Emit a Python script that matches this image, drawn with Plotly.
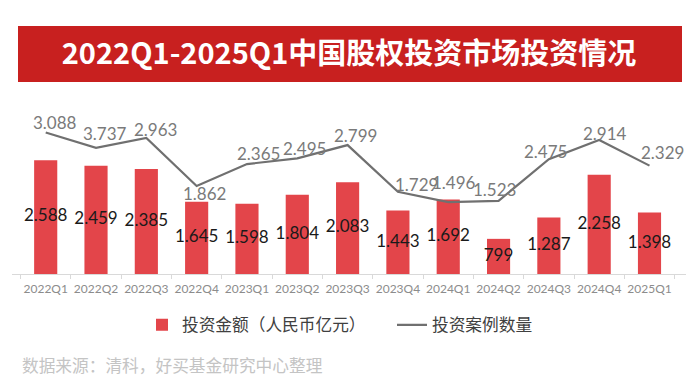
import plotly.graph_objects as go

quarters = ["2022Q1", "2022Q2", "2022Q3", "2022Q4", "2023Q1", "2023Q2", "2023Q3",
            "2023Q4", "2024Q1", "2024Q2", "2024Q3", "2024Q4", "2025Q1"]
amounts = [2588, 2459, 2385, 1645, 1598, 1804, 2083, 1443, 1692, 799, 1287, 2258, 1398]
counts = [3088, 2737, 2963, 1862, 2365, 2495, 2799, 1729, 1496, 1523, 2475, 2914, 2329]
count_labels = ["3.088", "3.737", "2.963", "1.862", "2.365", "2.495", "2.799",
                "1.729", "1.496", "1.523", "2.475", "2.914", "2.329"]

title_text = "2022Q1-2025Q1中国股权投资市场投资情况"
bar_name = "投资金额（人民币亿元）"
line_name = "投资案例数量"
source_text = "数据来源：清科，好买基金研究中心整理"

# label placement tweaks (pixels), style only
label_dx = [9, 9, 9, 8, 12, 7, 8, 19, 6, -4, -3, 6, 13]
label_dy = [10, 14, 8, -7, 11, 10, 10, 7, 20, 11, 8, 7, 13]

def fmt(v):
    return f"{v:,}".replace(",", ".")

BAR = "#E3454A"
LINE = "#707070"
NUM_FONT = "Lato, Roboto, sans-serif"
CJK = "Noto Sans CJK SC, sans-serif"

# the page body has an 8px default margin: work in window pixels, convert
OFF = 8
FIG_W, FIG_H = 700 - 2 * OFF, 385 - 2 * OFF

fig = go.Figure()
fig.add_trace(go.Bar(
    x=quarters, y=amounts, name=bar_name, marker=dict(color=BAR, line=dict(width=0)),
    width=0.46, yaxis="y", hoverinfo="skip",
))
fig.add_trace(go.Scatter(
    x=quarters, y=counts, name=line_name, mode="lines", yaxis="y2",
    line=dict(color=LINE, width=2.2), hoverinfo="skip",
))
fig.add_trace(go.Scatter(
    x=quarters, y=[a / 2 for a in amounts], mode="text", yaxis="y",
    text=[fmt(a) for a in amounts], textposition="middle center",
    textfont=dict(family=NUM_FONT, size=17, color="#1a1a1a"),
    showlegend=False, hoverinfo="skip", cliponaxis=False,
))

annotations = []
for q, c, lab, dx, dy in zip(quarters, counts, count_labels, label_dx, label_dy):
    annotations.append(dict(
        x=q, y=c, xref="x", yref="y2", text=lab, showarrow=False,
        xshift=dx, yshift=dy, xanchor="center", yanchor="middle",
        font=dict(family=NUM_FONT, size=17, color="#7a7a7a"),
    ))

PLOT_TOP, PLOT_BOTTOM, PLOT_L, PLOT_R = 100, 274, 12, 686
H = PLOT_BOTTOM - PLOT_TOP
W = PLOT_R - PLOT_L

def py(p):
    return (PLOT_BOTTOM - p) / H

def px(p):
    return (p - PLOT_L) / W

annotations.append(dict(
    x=px(20), y=py(365), xref="paper", yref="paper", xanchor="left", yanchor="middle",
    text=source_text, showarrow=False,
    font=dict(family=CJK, size=16.7, color="#c4c4c4"),
))

fig.update_layout(
    template="none",
    width=FIG_W, height=FIG_H,
    margin=dict(l=PLOT_L - OFF, r=FIG_W - (PLOT_R - OFF), t=PLOT_TOP - OFF,
                b=FIG_H - (PLOT_BOTTOM - OFF), pad=0, autoexpand=False),
    paper_bgcolor="white", plot_bgcolor="white",
    title=dict(text=title_text, x=0.5, xref="paper", xanchor="center",
               y=1 - (54 - OFF) / FIG_H, yref="container", yanchor="middle",
               font=dict(family=CJK, size=29, color="white", weight="bold")),
    shapes=[dict(type="rect", xref="paper", yref="paper",
                 x0=px(18), x1=px(682), y0=py(82), y1=py(26),
                 fillcolor="#C8201F", line=dict(width=0), layer="below")],
    xaxis=dict(type="category", showgrid=False, showline=True, linecolor="#d9d9d9",
               linewidth=1, ticks="outside", tickson="boundaries", ticklen=4,
               tickcolor="#d9d9d9", tickangle=0, automargin=False, ticklabelstandoff=4,
               tickfont=dict(family=NUM_FONT, size=12, color="#8c8c8c"),
               fixedrange=True, zeroline=False),
    yaxis=dict(range=[0, 3955], visible=False, showgrid=False, fixedrange=True,
               automargin=False, zeroline=False),
    yaxis2=dict(range=[-151, 3831], overlaying="y", visible=False, showgrid=False,
                fixedrange=True, automargin=False, zeroline=False),
    showlegend=True,
    legend=dict(orientation="h", x=px(142), xanchor="left", y=py(325), yanchor="middle",
                font=dict(family=CJK, size=16.7, color="#404040"),
                entrywidth=205, entrywidthmode="pixels",
                bgcolor="rgba(0,0,0,0)", traceorder="normal", itemclick=False),
    annotations=annotations,
)

fig.write_html("out.html")
